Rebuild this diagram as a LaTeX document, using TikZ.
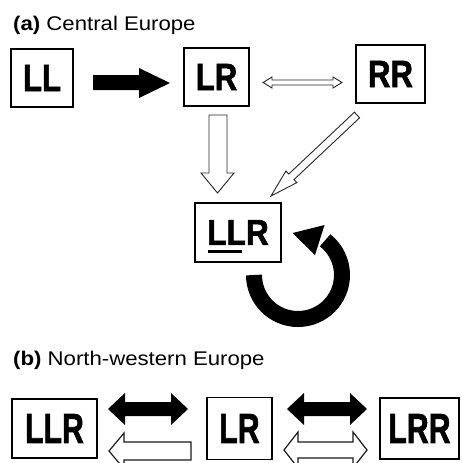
\documentclass[tikz,border=0pt]{standalone}
\usepackage{fontspec}
\setmainfont{Liberation Sans}
\newfontfamily\bxfont[FakeBold=1.6]{Liberation Sans}
\usepackage{graphicx}
\newcommand\bxt[3]{\scalebox{#1}[1]{\fontsize{#2}{#2}\selectfont\bxfont\bfseries #3}}
\newcommand\ttl[1]{\scalebox{1.12}[1]{\fontsize{19.8}{20}\selectfont #1}}
\tikzset{
  box/.style={draw, line width=1.3pt, inner sep=0pt},
  blk/.style={fill=black, draw=none},
  hol/.style={draw=black!85, fill=white, line width=0.9pt, line join=miter},
  holb/.style={draw=black!90, fill=white, line width=1.2pt, line join=miter},
  ttlnode/.style={anchor=base west, inner sep=0pt},
}
\begin{document}
\begin{tikzpicture}[x=1pt,y=-1pt]
\useasboundingbox (0,0) rectangle (461,463);
% titles
\node[ttlnode] (ta) at (13,30) {\ttl{\textbf{(a)} Central Europe}};
\node[ttlnode] (tb) at (13,365) {\ttl{\textbf{(b)} North-western Europe}};
% panel (a) boxes
\node[box, minimum width=62pt, minimum height=58pt] (LL) at (42,78) {\bxt{0.82}{38}{LL}};
\node[box, minimum width=65pt, minimum height=58pt] (LR) at (216.5,77) {\bxt{0.82}{38}{LR}};
\node[box, minimum width=69pt, minimum height=58pt] (RR) at (390.5,74) {\bxt{0.82}{38}{RR}};
\node[box, minimum width=86pt, minimum height=59pt] (LLRm) at (238,232.5) {\bxt{0.88}{36}{LLR}};
\fill (208,249.8) rectangle (242,252.6);
% black arrow LL -> LR
\fill[blk] (93,75) -- (139,75) -- (139,68) -- (170,83) -- (139,98) -- (139,90) -- (93,90) -- cycle;
% hollow double LR <-> RR
\draw[hol] (263,82.5) -- (272,77) -- (272,80) -- (333,80) -- (333,77) -- (342,82.5) -- (333,88) -- (333,85) -- (272,85) -- (272,88) -- cycle;
% hollow down LR -> LLR
\draw[hol] (209,115) -- (227,115) -- (227,173) -- (234,173) -- (217.5,193) -- (201,173) -- (209,173) -- cycle;
% hollow diagonal RR -> LLR
\draw[hol] (354.4,112.2) -- (359.6,117.8) -- (294.0,179.6) -- (296.9,182.6) -- (271,196) -- (285.9,171.0) -- (288.8,174.0) -- cycle;
% circular arrow
\draw[line width=16pt] (298,275) ++(180:44) arc[start angle=180, end angle=-52, radius=44];
\fill[blk] (292.5,233) -- (324.5,225) -- (315,255) -- cycle;
% panel (b) boxes
\node[box, minimum width=85pt, minimum height=59pt] (LLRb) at (54.5,428.5) {\bxt{0.72}{42}{LLR}};
\node[box, minimum width=65pt, minimum height=62pt] (LRb) at (239.5,428.5) {\bxt{0.72}{42}{LR}};
\node[box, minimum width=79pt, minimum height=61pt] (LRRb) at (419.5,428.5) {\bxt{0.72}{42}{LRR}};
% black double arrows
\fill[blk] (108,409) -- (125,393) -- (125,402) -- (171,402) -- (171,393) -- (188,409) -- (171,425) -- (171,416) -- (125,416) -- (125,425) -- cycle;
\fill[blk] (287,409) -- (304,393) -- (304,402) -- (350,402) -- (350,393) -- (367,409) -- (350,425) -- (350,416) -- (304,416) -- (304,425) -- cycle;
% hollow arrows (cropped)
\begin{scope}
\clip (0,0) rectangle (461,463);
\draw[holb] (109,451) -- (124,433) -- (124,442) -- (191,442) -- (191,460) -- (124,460) -- (124,469) -- cycle;
\draw[holb] (284,450) -- (298,432) -- (298,442) -- (353,442) -- (353,432) -- (367,450) -- (353,468) -- (353,458) -- (298,458) -- (298,468) -- cycle;
\end{scope}
\end{tikzpicture}
\end{document}
